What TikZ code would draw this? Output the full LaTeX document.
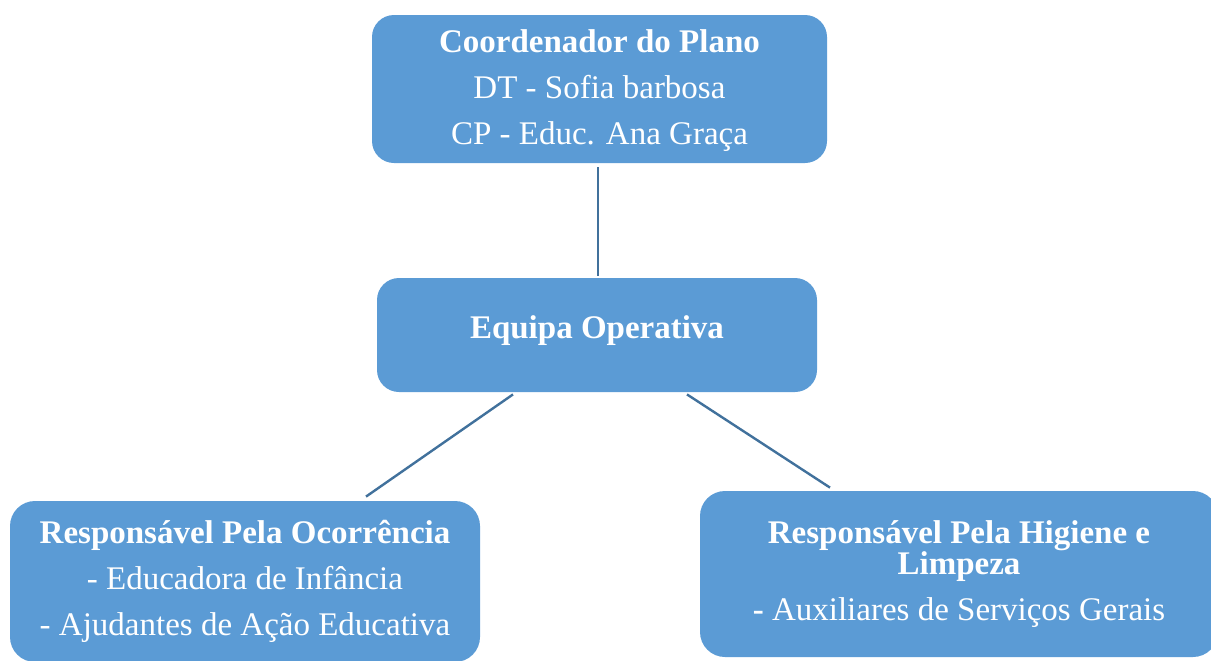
\documentclass[tikz,border=0pt]{standalone}
\usepackage{fontspec}
\setmainfont{Liberation Serif}
\usepackage{tikz}
\usetikzlibrary{positioning}
\definecolor{boxfill}{HTML}{5B9BD5}
\definecolor{linkcol}{HTML}{41719C}
\tikzset{
  box/.style  = {rounded corners=11pt, fill=boxfill, text=white, align=center,
                 inner sep=0pt, font=\fontsize{16.5}{23}\selectfont},
  ln/.style   = {draw=linkcol, line width=1.2pt},
}

\begin{document}
\begin{tikzpicture}[x=0.5pt, y=-0.5pt]
  \useasboundingbox (0,0) rectangle (1211,660);
  \node[box, minimum width=227.5pt, minimum height=74pt, text depth=2pt] (coord) at (599.5,89)
    {\textbf{Coordenador do Plano}\\DT - Sofia barbosa\\CP - Educ. Ana Graça};
  \node[box, minimum width=220pt, minimum height=57pt, text depth=8pt] (equipa) at (597,335)
    {\textbf{Equipa Operativa}};
  \node[box, rounded corners=12.5pt, minimum width=235pt, minimum height=80.5pt] (ocorr) at (245,581.5)
    {\textbf{Responsável Pela Ocorrência}\\- Educadora de Infância\\- Ajudantes de Ação Educativa};
  \node[box, rounded corners=12.5pt, minimum width=259pt, minimum height=83pt] (higiene) at (959,574)
    {\textbf{Responsável Pela Higiene e}\\[-7.5pt]\textbf{Limpeza}\\\textbf{-} Auxiliares de Serviços Gerais};
  \draw[ln] ([xshift=-0.75pt,yshift=-2pt]coord.south) -- ([xshift=0.5pt,yshift=1pt]equipa.north);
  \draw[ln] ([xshift=-42pt,yshift=-1pt]equipa.south) -- ([xshift=60.5pt,yshift=2pt]ocorr.north);
  \draw[ln] ([xshift=45pt,yshift=-1pt]equipa.south) -- ([xshift=-64.5pt,yshift=1.5pt]higiene.north);
\end{tikzpicture}
\end{document}
